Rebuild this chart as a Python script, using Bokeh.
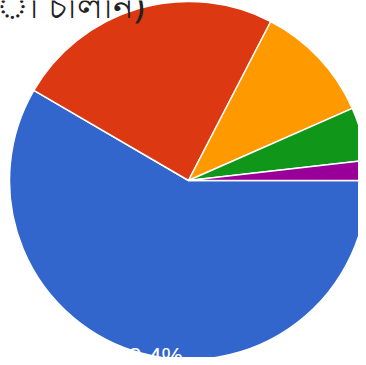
from bokeh.plotting import figure
from bokeh.models import ColumnDataSource, Range1d
from bokeh.core.properties import value
from bokeh.embed import file_html
from bokeh.resources import INLINE
import math

# data (percent shares, clockwise from 3 o'clock)
categories = ["A", "B", "C", "D", "E"]
shares = [58.4, 24.2, 10.8, 4.8, 1.8]
colors = ["#3366cc", "#dc3912", "#ff9900", "#109618", "#990099"]
title_text = "ো চালান)"

W, H = 358, 357
CX, CY, R = 188, H - 180, 179

total = sum(shares)
ends, starts = [], []
acc = 0.0
for s in shares:
    starts.append(-2 * math.pi * (acc + s) / total)
    ends.append(-2 * math.pi * acc / total)
    acc += s

src = ColumnDataSource(dict(cat=categories, share=shares, color=colors,
                            start=starts, end=ends))

p = figure(width=W, height=H, output_backend="svg", toolbar_location=None,
           x_range=Range1d(0, W), y_range=Range1d(0, H), min_border=0,
           tools="")
p.axis.visible = False
p.grid.visible = False
p.outline_line_color = None
p.background_fill_color = "white"

p.wedge(x=CX, y=CY, radius=R, start_angle="start", end_angle="end",
        direction="anticlock", fill_color="color", line_color="white",
        line_width=1.5, source=src)

# label for the largest slice
mid = (starts[0] + ends[0]) / 2
lx = CX + R * math.cos(mid)
ly = CY + R * math.sin(mid)
p.text(x=[lx], y=[ly], text=[f"{shares[0]}%"], text_color="white",
       text_font=value("Liberation Sans"), text_font_size="24px",
       text_align="center", text_baseline="middle", x_offset=7, y_offset=3)

# cropped title
p.text(x=[144], y=[H - 4], text=[title_text], text_color="#222222",
       text_font=value("Noto Sans"), text_font_size="35px",
       text_align="right", text_baseline="alphabetic")

open("out.html", "w").write(file_html(p, INLINE))
